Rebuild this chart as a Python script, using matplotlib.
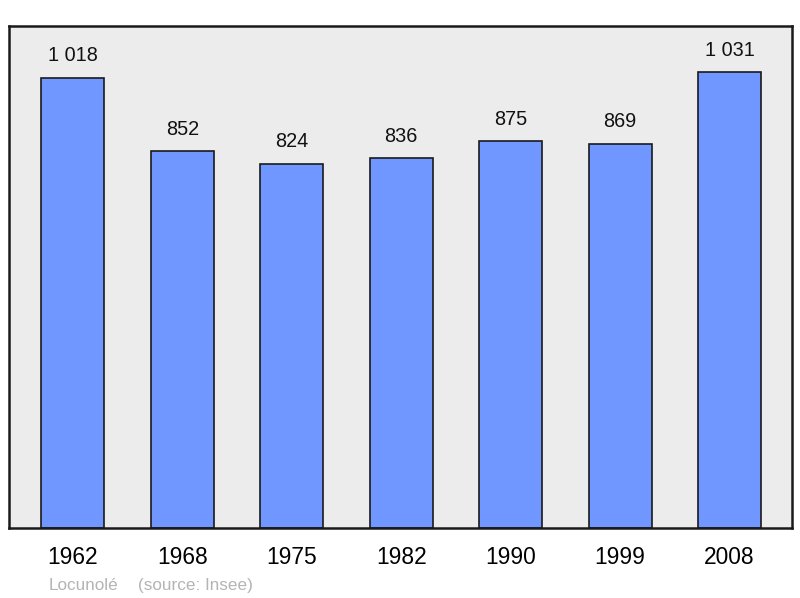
import matplotlib

matplotlib.use("Agg")
import matplotlib.pyplot as plt

years = ["1962", "1968", "1975", "1982", "1990", "1999", "2008"]
population = [1018, 852, 824, 836, 875, 869, 1031]
value_labels = ["1 018", "852", "824", "836", "875", "869", "1 031"]

plt.rcParams["font.family"] = ["Liberation Sans", "DejaVu Sans"]

fig = plt.figure(figsize=(8.0, 5.98), dpi=100)
ax = fig.add_axes([0.011, 0.117, 0.979, 0.840])
ax.set_facecolor("#ececec")

xs = list(range(len(years)))
ax.bar(xs, population, width=0.575, color="#7096ff", edgecolor="#1a1a1a",
       linewidth=1.2, zorder=2)

for x, v, lab in zip(xs, population, value_labels):
    ax.annotate(lab, (x, v), xytext=(0, 9), textcoords="offset points",
                ha="center", va="bottom", fontsize=14.3, color="#111111")

ax.set_xlim(-0.585, 6.57)
ax.set_ylim(0, 1136)
ax.set_xticks(xs)
ax.set_xticklabels(years, fontsize=16.4)
ax.tick_params(axis="x", length=0, pad=13)
ax.set_yticks([])
for s in ax.spines.values():
    s.set_linewidth(1.8)
    s.set_color("#1a1a1a")

fig.text(0.061, 0.009, "Locunolé", fontsize=12.3,
         color="#b4b4b4", ha="left", va="bottom")
fig.text(0.173, 0.009, "(source: Insee)", fontsize=12.3,
         color="#b4b4b4", ha="left", va="bottom")

fig.savefig("out.png", dpi=100)
